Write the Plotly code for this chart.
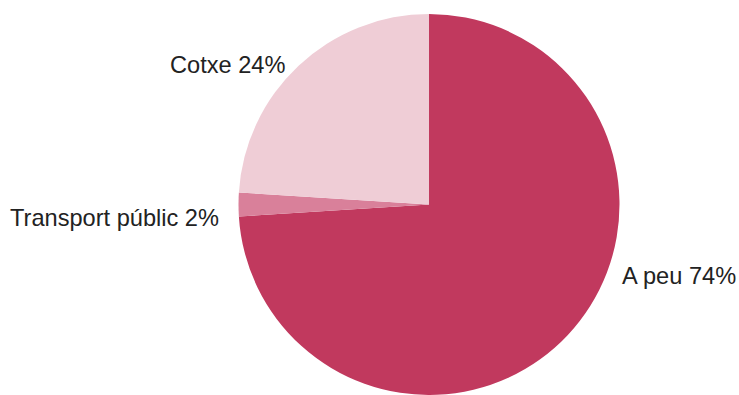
import plotly.graph_objects as go

labels = ["A peu", "Transport públic", "Cotxe"]
values = [74, 2, 24]
colors = ["#C1395E", "#D9809A", "#EFCDD6"]

fig = go.Figure(go.Pie(
    labels=labels, values=values, sort=False, direction="clockwise", rotation=0,
    marker=dict(colors=colors, line=dict(width=0)),
    textinfo="none", hoverinfo="label+percent",
    domain=dict(x=[(429 - 192) / 739, (429 + 192) / 739], y=[0, 1]),
))

lab_pos = [(738, 272, "right"), (221, 212, "right"), (287, 53, "right")]
for (x, y, anc), lab, v in zip(lab_pos, labels, values):
    fig.add_annotation(x=x / 739, y=1 - y / 395, xref="paper", yref="paper",
                       text=f"{lab} {v}%", showarrow=False, xanchor=anc, yanchor="middle",
                       font=dict(family="Liberation Sans, Arial", size=23.6, color="#222222"))

fig.update_layout(width=739, height=395, showlegend=False,
                  margin=dict(l=0, r=0, t=14, b=0),
                  paper_bgcolor="white", plot_bgcolor="white")
fig.write_html("out.html")
